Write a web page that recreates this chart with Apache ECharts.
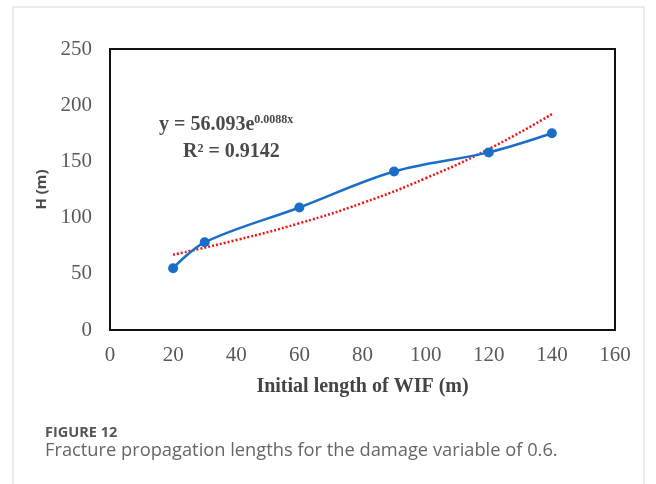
<!DOCTYPE html>
<html>
<head>
<meta charset="utf-8">
<script src="https://cdn.jsdelivr.net/npm/echarts@6/dist/echarts.min.js"></script>
<style>
    html, body { margin: 0; padding: 0; background: #fff; }
    #main { width: 656px; height: 484px; }
</style>
</head>
<body>
<div id="main"></div>
<script>
    var lengthX = [20, 30, 60, 90, 120, 140];
    var heightH = [55, 78, 109, 141, 158, 175];
    // exponential trendline
    var trendX = [20, 40, 60, 80, 100, 120, 140];
    var trendH = [67, 80, 95, 113, 135, 161, 192];
    var xTicks = [0, 20, 40, 60, 80, 100, 120, 140, 160];
    var yTicks = [0, 50, 100, 150, 200, 250];

    var serif = '"Liberation Serif", "Times New Roman", serif';

    var chart = echarts.init(document.getElementById('main'));
    var option = {
        animation: false,
        backgroundColor: '#fff',
        grid: {
            left: 110,
            right: 41,
            top: 49,
            bottom: 154,
            show: true,
            borderColor: '#111',
            borderWidth: 2,
            backgroundColor: 'transparent'
        },
        xAxis: {
            type: 'value',
            min: xTicks[0],
            max: xTicks[xTicks.length - 1],
            interval: 20,
            name: 'Initial length of WIF (m)',
            nameLocation: 'middle',
            nameGap: 47,
            nameTextStyle: { fontFamily: serif, fontSize: 20, fontWeight: 'bold', color: '#444' },
            axisLine: { show: false },
            axisTick: { show: false },
            splitLine: { show: false },
            axisLabel: { fontFamily: serif, fontSize: 21, color: '#5a5a5a', margin: 15 }
        },
        yAxis: {
            type: 'value',
            min: yTicks[0],
            max: yTicks[yTicks.length - 1],
            interval: 50,
            name: 'H (m)',
            nameLocation: 'middle',
            nameGap: 54,
            nameTextStyle: { fontFamily: '"Noto Sans", sans-serif', fontSize: 15, fontWeight: 'bold', color: '#4a4a4a' },
            axisLine: { show: false },
            axisTick: { show: false },
            splitLine: { show: false },
            axisLabel: { fontFamily: serif, fontSize: 21, color: '#5a5a5a', margin: 18 }
        },
        series: [{
            name: 'trend',
            type: 'line',
            smooth: true,
            showSymbol: false,
            symbol: 'none',
            data: trendX.map(function(x, i) { return [x, trendH[i]]; }),
            lineStyle: { color: '#f01515', width: 2.5, type: [2, 2] },
            z: 3
        }, {
            name: 'H',
            type: 'line',
            smooth: 0.35,
            symbol: 'circle',
            symbolSize: 10,
            data: lengthX.map(function(x, i) { return [x, heightH[i]]; }),
            itemStyle: { color: '#1b6ec8' },
            lineStyle: { color: '#1b6ec8', width: 2.5 },
            z: 4
        }],
        graphic: [{
            type: 'rect',
            shape: { x: 13, y: 7, width: 631, height: 500 },
            style: { fill: 'none', stroke: '#d8d8d8', lineWidth: 1 },
            silent: true,
            z: -1
        }, {
            type: 'text',
            left: 159,
            top: 114,
            style: {
                text: '{b|y = 56.093e}{s|0.0088x}',
                rich: {
                    b: { fontFamily: serif, fontSize: 20, fontWeight: 'bold', fill: '#4a4a4a', verticalAlign: 'bottom' },
                    s: { fontFamily: serif, fontSize: 12, fontWeight: 'bold', fill: '#4a4a4a', padding: [0, 0, 9, 0], verticalAlign: 'bottom' }
                }
            }
        }, {
            type: 'text',
            left: 183,
            top: 142,
            style: { text: 'R² = 0.9142', font: 'bold 20px ' + serif, fill: '#4a4a4a' }
        }, {
            type: 'text',
            left: 45,
            top: 425,
            style: { text: 'FIGURE 12', font: 'bold 14.5px "Open Sans", sans-serif', fill: '#555' }
        }, {
            type: 'text',
            left: 45,
            top: 442,
            style: { text: 'Fracture propagation lengths for the damage variable of 0.6.', font: '18.3px "Open Sans", sans-serif', fill: '#666' }
        }]
    };
    chart.setOption(option);
</script>
</body>
</html>
